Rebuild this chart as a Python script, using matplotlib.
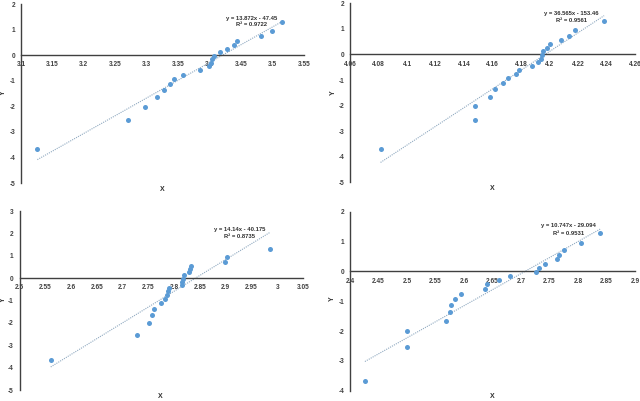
import matplotlib
matplotlib.use("Agg")
import matplotlib.pyplot as plt
import numpy as np

plt.rcParams['font.family'] = ['Liberation Sans', 'DejaVu Sans']

# shared y values
y_vals = [-3.68, -2.55, -2.01, -1.65, -1.37, -1.13, -0.93, -0.76, -0.59, -0.44,
          -0.30, -0.16, -0.02, 0.12, 0.26, 0.40, 0.56, 0.73, 0.95, 1.30]

x_a = [3.126, 3.271, 3.298, 3.317, 3.328, 3.337, 3.343, 3.358, 3.384, 3.3995,
       3.4016, 3.4037, 3.4074, 3.4164, 3.4276, 3.4392, 3.4435, 3.4816, 3.4996, 3.515]
x_b = [4.0814, 4.1478, 4.1478, 4.1584, 4.1619, 4.1675, 4.1706, 4.1765, 4.1788, 4.1875,
       4.1918, 4.1939, 4.1946, 4.1953, 4.1981, 4.2002, 4.2082, 4.2139, 4.2176, 4.2384]
x_c = [2.5605, 2.727, 2.7516, 2.7568, 2.7613, 2.775, 2.7827, 2.7852, 2.7872, 2.7895,
       2.8150, 2.8156, 2.8168, 2.8182, 2.8286, 2.8306, 2.8325, 2.8986, 2.9025, 2.986]
x_d = [2.426, 2.5006, 2.5006, 2.568, 2.575, 2.577, 2.584, 2.594, 2.636, 2.640,
       2.661, 2.681, 2.727, 2.732, 2.743, 2.763, 2.767, 2.776, 2.805, 2.839]

slopes = [13.872, 36.565, 14.14, 10.747]
intercepts = [-47.45, -153.46, -40.175, -29.094]
eq_labels = ["y = 13.872x - 47.45", "y = 36.565x - 153.46",
             "y = 14.14x - 40.175", "y = 10.747x - 29.094"]
r2_labels = ["R² = 0.9722", "R² = 0.9561", "R² = 0.8735", "R² = 0.9531"]

xticks_a = [3.1, 3.15, 3.2, 3.25, 3.3, 3.35, 3.4, 3.45, 3.5, 3.55]
xtl_a = ["3.1", "3.15", "3.2", "3.25", "3.3", "3.35", "3.4", "3.45", "3.5", "3.55"]
xticks_b = [4.06, 4.08, 4.1, 4.12, 4.14, 4.16, 4.18, 4.2, 4.22, 4.24, 4.26]
xtl_b = ["4.06", "4.08", "4.1", "4.12", "4.14", "4.16", "4.18", "4.2", "4.22", "4.24", "4.26"]
xticks_c = [2.5, 2.55, 2.6, 2.65, 2.7, 2.75, 2.8, 2.85, 2.9, 2.95, 3.0, 3.05]
xtl_c = ["2.5", "2.55", "2.6", "2.65", "2.7", "2.75", "2.8", "2.85", "2.9", "2.95", "3", "3.05"]
xticks_d = [2.4, 2.45, 2.5, 2.55, 2.6, 2.65, 2.7, 2.75, 2.8, 2.85, 2.9]
xtl_d = ["2.4", "2.45", "2.5", "2.55", "2.6", "2.65", "2.7", "2.75", "2.8", "2.85", "2.9"]

yticks_a = [-5, -4, -3, -2, -1, 0, 1, 2]
yticks_c = [-5, -4, -3, -2, -1, 0, 1, 2, 3]
yticks_d = [-4, -3, -2, -1, 0, 1, 2]

panels = [
    dict(x=x_a, pos=[0.0328, 0.5436, 0.442, 0.4464], xt=xticks_a, xtl=xtl_a, yt=yticks_a,
         eqpos=(3.467, 1.44, 1.18), ylab=(-0.064, 0.503), xlab=(0.498, -0.034)),
    dict(x=x_b, pos=[0.547, 0.5454, 0.445, 0.4464], xt=xticks_b, xtl=xtl_b, yt=yticks_a,
         eqpos=(4.2153, 1.60, 1.32), ylab=(-0.06, 0.503), xlab=(0.498, -0.032)),
    dict(x=x_c, pos=[0.0305, 0.0274, 0.443, 0.4464], xt=xticks_c, xtl=xtl_c, yt=yticks_c,
         eqpos=(2.927, 2.18, 1.85), ylab=(-0.057, 0.503), xlab=(0.498, -0.034)),
    dict(x=x_d, pos=[0.547, 0.0257, 0.445, 0.4464], xt=xticks_d, xtl=xtl_d, yt=yticks_d,
         eqpos=(2.783, 1.53, 1.27), ylab=(-0.063, 0.512), xlab=(0.498, -0.035)),
]

axis_col = '#404040'
pt_col = '#5B9BD5'
line_col = '#8FA9C0'

fig = plt.figure(figsize=(6.4, 4.01), dpi=100)
for i, p in enumerate(panels):
    ax = fig.add_axes(p['pos'])
    xs = np.array(p['x'])
    ax.scatter(xs, y_vals, s=13, color=pt_col, zorder=3, linewidths=0)
    xl = np.array([xs.min(), xs.max()])
    ax.plot(xl, slopes[i] * xl + intercepts[i], color=line_col, lw=0.8,
            linestyle=(0, (1, 1)), zorder=2)
    ax.set_xlim(p['xt'][0], p['xt'][-1])
    ax.set_ylim(p['yt'][0], p['yt'][-1])
    ax.set_xticks(p['xt'])
    ax.set_xticklabels(p['xtl'])
    ax.set_yticks(p['yt'])
    ax.set_yticklabels([str(v) for v in p['yt']])
    for s in ['top', 'right']:
        ax.spines[s].set_visible(False)
    ax.spines['bottom'].set_position(('data', 0))
    ax.spines['bottom'].set_color(axis_col)
    ax.spines['left'].set_color(axis_col)
    ax.spines['bottom'].set_linewidth(1.0)
    ax.spines['left'].set_linewidth(1.0)
    ax.tick_params(axis='both', labelsize=4.7, colors=axis_col, length=0, pad=4.5)
    ax.tick_params(axis='y', pad=4.3)
    for lab in ax.get_xticklabels() + ax.get_yticklabels():
        lab.set_fontweight('bold')
    ex, ey1, ey2 = p['eqpos']
    ax.text(ex, ey1, eq_labels[i], ha='center', va='center', fontsize=4.2,
            fontweight='bold', color='#303030')
    ax.text(ex, ey2, r2_labels[i], ha='center', va='center', fontsize=4.2,
            fontweight='bold', color='#303030')
    ax.text(p['ylab'][0], p['ylab'][1], 'Y', transform=ax.transAxes, rotation=90,
            ha='center', va='center', fontsize=5, fontweight='bold', color='#303030')
    ax.text(p['xlab'][0], p['xlab'][1], 'X', transform=ax.transAxes,
            ha='center', va='center', fontsize=5, fontweight='bold', color='#303030')

fig.savefig('out.png', dpi=100)
